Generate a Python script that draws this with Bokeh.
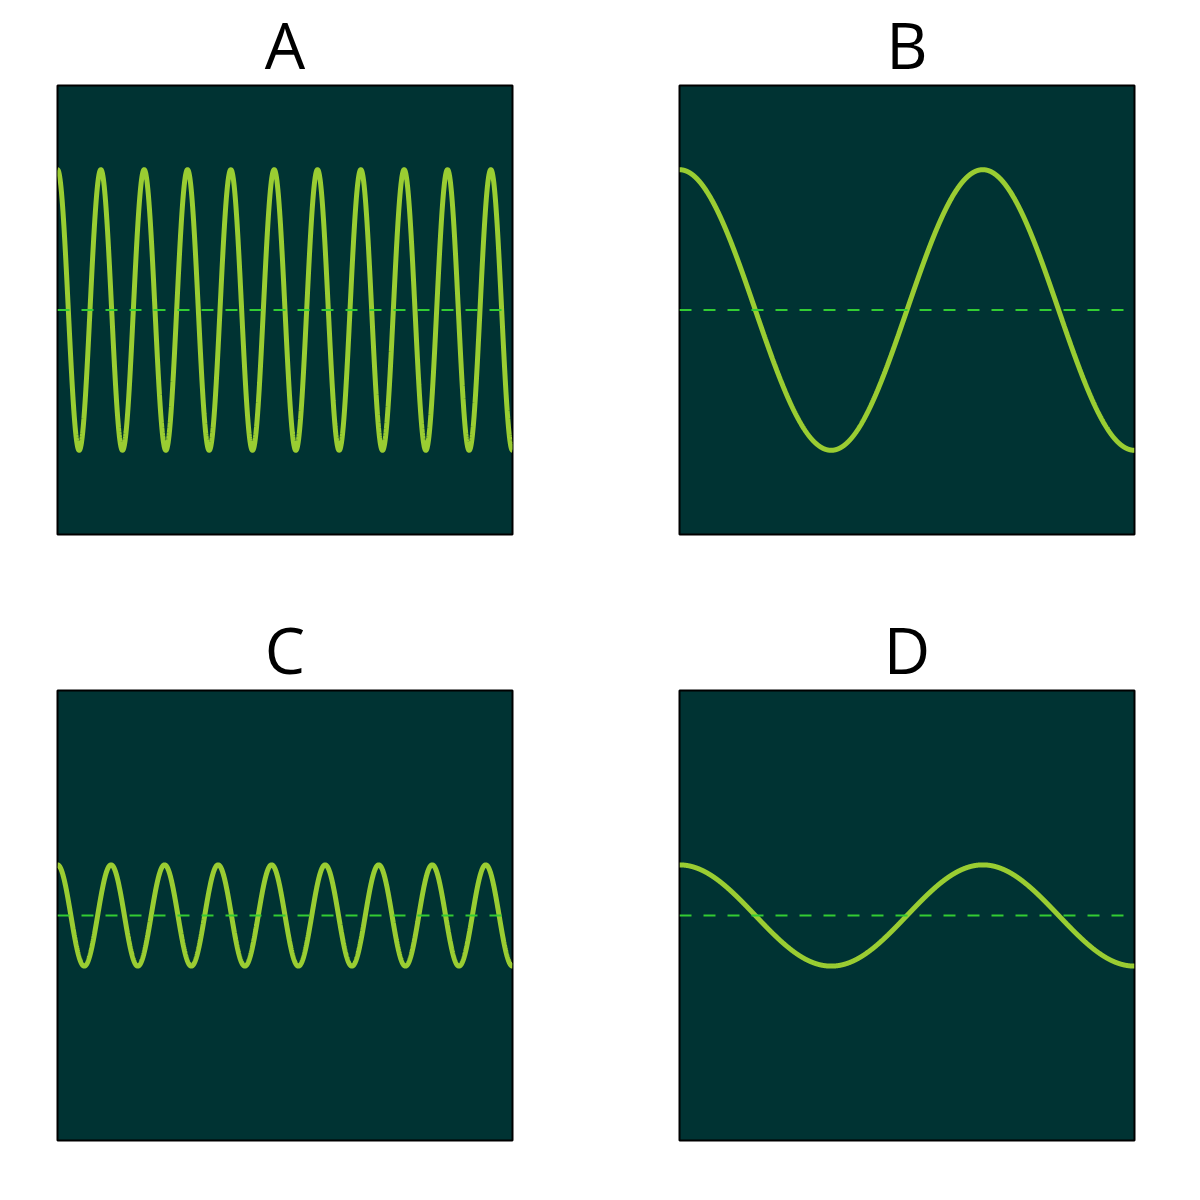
import numpy as np
from bokeh.plotting import figure
from bokeh.layouts import gridplot
from bokeh.models import Range1d, Span
from bokeh.embed import file_html
from bokeh.resources import INLINE

# Panel parameters
titles = ["A", "B", "C", "D"]
cycles = [10.5, 1.5, 8.5, 1.5]        # number of cycles across the panel
amplitudes = [1.0, 1.0, 0.36, 0.36]   # relative amplitude
y_limit = 1.6

# Panel borders (page layout)
borders = [
    dict(min_border_left=57, min_border_right=96, min_border_top=85, min_border_bottom=71, frame_height=449),
    dict(min_border_left=71, min_border_right=20, min_border_top=85, min_border_bottom=71, frame_height=449),
    dict(min_border_left=57, min_border_right=96, min_border_top=85, min_border_bottom=20, frame_height=450),
    dict(min_border_left=71, min_border_right=20, min_border_top=85, min_border_bottom=20, frame_height=450),
]

figs = []
for t, c, a, b in zip(titles, cycles, amplitudes, borders):
    p = figure(title=t, frame_width=455, output_backend="svg", toolbar_location=None,
               x_range=Range1d(0, 1), y_range=Range1d(-y_limit, y_limit),
               background_fill_color="#003333", border_fill_color="white",
               outline_line_color="black", outline_line_width=2, **b)
    p.axis.visible = False
    p.grid.visible = False
    p.title.align = "center"
    p.title.text_font = "Open Sans"
    p.title.text_font_size = "64px"
    p.title.text_font_style = "normal"
    p.title.text_color = "black"
    p.title.standoff = -4
    p.title.offset = -4
    p.add_layout(Span(location=0, dimension="width", line_color="#33cc33",
                      line_width=2, line_dash="12 12"))
    x = np.linspace(0, 1, 3000)
    y = a * np.cos(2 * np.pi * c * x)
    p.line(x, y, line_color="#9acd32", line_width=5)
    figs.append(p)

grid = gridplot([[figs[0], figs[1]], [figs[2], figs[3]]], toolbar_location=None)
open("out.html", "w").write(file_html(grid, INLINE))
